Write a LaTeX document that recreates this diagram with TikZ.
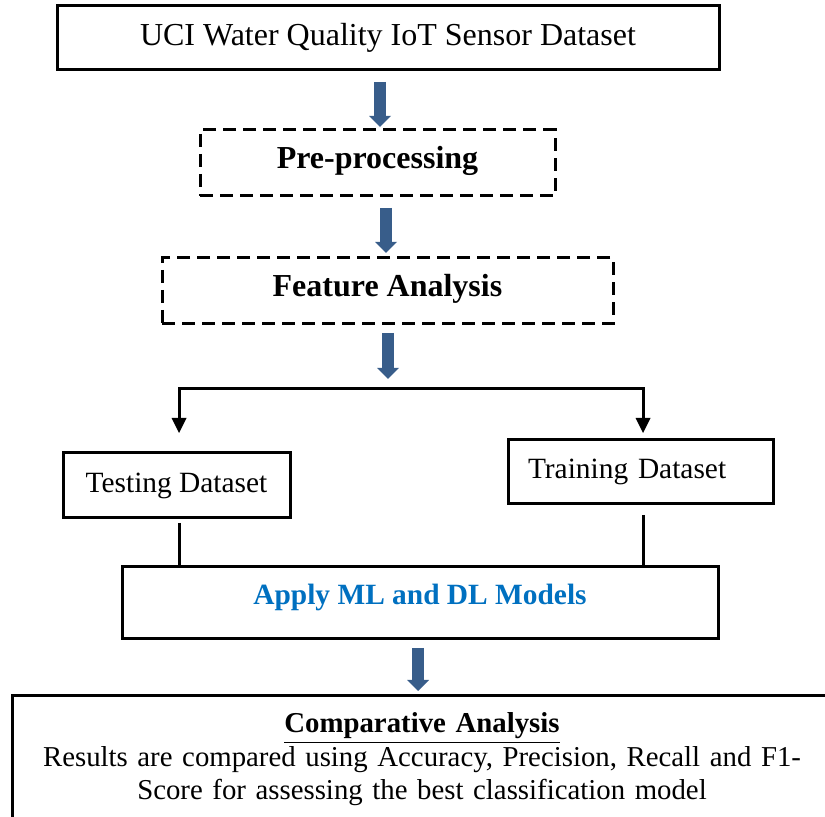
\documentclass[tikz,border=0pt]{standalone}
\usepackage{fontspec}
\setmainfont{Liberation Serif}
\usetikzlibrary{arrows.meta,calc}
\definecolor{arrblue}{RGB}{56,93,138}
\definecolor{mlblue}{RGB}{0,112,192}
\begin{document}
\begin{tikzpicture}[x=0.5pt,y=-0.5pt,
  every node/.style={inner sep=0pt, outer sep=0pt},
  solidbox/.style={draw, line width=1.5pt, rectangle},
  dashbox/.style={draw, line width=1.5pt, dash pattern=on 6.5pt off 3.5pt},
  bigtext/.style={font=\fontsize{16}{19}\selectfont},
  bigbold/.style={font=\fontsize{16}{19}\selectfont\bfseries},
  midtext/.style={font=\fontsize{14.7}{16.75}\selectfont},
  comptext/.style={font=\fontsize{14.4}{16.75}\selectfont},
  blockarrow/.style={draw=arrblue, line width=6pt, -{Triangle[width=11pt,length=5.5pt,line width=0pt]}},
  splitarrow/.style={draw=black, line width=1.5pt, -{Triangle[width=7.5pt,length=7.5pt,line width=0pt]}},
  conn/.style={draw=black, line width=1.5pt}
]
\useasboundingbox (0,0) rectangle (825,817);
\clip (0,0) rectangle (825,817);

\node[solidbox, bigtext, minimum width=331pt, minimum height=32pt] (b1) at (388,38)
  {UCI Water Quality IoT Sensor Dataset};
\node[dashbox, bigbold, minimum width=177.5pt, minimum height=33pt, text height=11pt, text depth=5.5pt] (pre) at (377.5,163)
  {Pre-processing};
\node[dashbox, bigbold, minimum width=225.5pt, minimum height=33pt, text height=11pt, text depth=5.5pt] (fa) at (387.5,291)
  {Feature Analysis};
\node[solidbox, midtext, minimum width=113.5pt, minimum height=32.5pt] (test) at (176.5,485.5)
  {Testing Dataset};
\node[solidbox, midtext, minimum width=132.5pt, minimum height=32pt, text width=112.5pt, align=left] (train) at (640.5,472)
  {Training Dataset};
\node[solidbox, midtext, font=\fontsize{14.7}{16.75}\selectfont\bfseries, text=mlblue, minimum width=298pt, minimum height=36pt, text height=10pt, text depth=8pt] (apply) at (420,603)
  {Apply ML and DL Models};
\node[solidbox, comptext, anchor=north west, inner xsep=5pt, inner ysep=8.5pt, text width=400pt, align=center] (comp) at (12,696)
  {\underline{\textbf{Comparative Analysis}}\\
   Results are compared using Accuracy, Precision, Recall and F1-\\
   Score for assessing the best classification model};

% block arrows
\draw[blockarrow] ($(b1.south)+(-8,12)$) -- ($(pre.north)+(2.5,-3)$);
\draw[blockarrow] ($(pre.south)+(8.5,12)$) -- ($(fa.north)+(-1.5,-5)$);
\coordinate (sm) at (388,389);
\draw[blockarrow] ($(fa.south)+(0.5,9)$) -- ($(sm)+(0,-10)$);
\draw[blockarrow] ($(apply.south)+(-2,9)$) -- ($(comp.north)+(-4,-5)$);

% split
\coordinate (tl) at (179,433);
\coordinate (tr) at (643,433);
\draw[splitarrow] (sm) -| (tl);
\draw[splitarrow] (sm) -| (tr);

% joins to apply box
\coordinate (tb) at (179,523);
\coordinate (rb) at (643,515);
\draw[conn] (tb) -- (tb |- apply.north);
\draw[conn] (rb) -- (rb |- apply.north);
\end{tikzpicture}
\end{document}
